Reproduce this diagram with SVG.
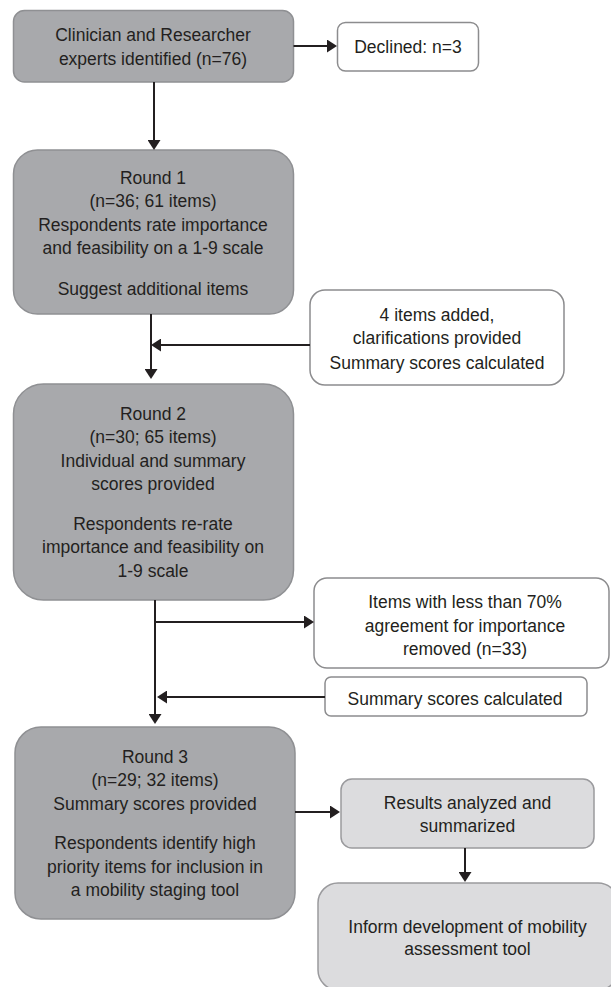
<svg xmlns="http://www.w3.org/2000/svg" width="611" height="987" viewBox="0 0 611 987">
<style>
  .dark { fill: #a8a9ac; stroke: #8f9093; stroke-width: 1.5; }
  .white { fill: #ffffff; stroke: #8c8c8e; stroke-width: 1.5; }
  .light { fill: #dcdcde; stroke: #9a9a9d; stroke-width: 1.5; }
  text { font-family: "Liberation Sans", Arial, sans-serif; font-size: 17.5px; fill: #231f20; text-anchor: middle; }
  .conn line { stroke: #231f20; stroke-width: 2; fill: none; }
</style>
<defs>
  <marker id="arrow" markerUnits="userSpaceOnUse" markerWidth="10" markerHeight="13" refX="5" refY="6.5" orient="auto">
    <path d="M0,0 L10,6.5 L0,13 z" fill="#231f20"/>
  </marker>
</defs>
<rect width="611" height="987" fill="#ffffff"/>

<g id="experts">
  <rect class="dark" x="13.5" y="10.5" width="280" height="71.5" rx="11"/>
  <text x="153" y="41">Clinician and Researcher</text>
  <text x="153" y="65">experts identified (n=76)</text>
</g>
<g id="declined">
  <rect class="white" x="337.5" y="22.5" width="141" height="48.5" rx="8"/>
  <text x="408" y="53">Declined: n=3</text>
</g>
<g id="round1">
  <rect class="dark" x="13.5" y="150" width="280" height="164" rx="24"/>
  <text x="153" y="184">Round 1</text>
  <text x="153" y="207">(n=36; 61 items)</text>
  <text x="153" y="231">Respondents rate importance</text>
  <text x="153" y="254">and feasibility on a 1-9 scale</text>
  <text x="153" y="295">Suggest additional items</text>
</g>
<g id="items-added">
  <rect class="white" x="310" y="290" width="254" height="95" rx="15"/>
  <text x="437" y="321">4 items added,</text>
  <text x="437" y="344">clarifications provided</text>
  <text x="437" y="369">Summary scores calculated</text>
</g>
<g id="round2">
  <rect class="dark" x="13.5" y="384" width="280" height="216" rx="30"/>
  <text x="153" y="420">Round 2</text>
  <text x="153" y="443">(n=30; 65 items)</text>
  <text x="153" y="467">Individual and summary</text>
  <text x="153" y="490">scores provided</text>
  <text x="153" y="530">Respondents re-rate</text>
  <text x="153" y="553">importance and feasibility on</text>
  <text x="153" y="577">1-9 scale</text>
</g>
<g id="items-removed">
  <rect class="white" x="314" y="578" width="295" height="90" rx="13"/>
  <text x="465" y="608">Items with less than 70%</text>
  <text x="465" y="632">agreement for importance</text>
  <text x="465" y="655">removed (n=33)</text>
</g>
<g id="summary-scores">
  <rect class="white" x="325" y="677" width="262" height="39" rx="6"/>
  <text x="455" y="705">Summary scores calculated</text>
</g>
<g id="round3">
  <rect class="dark" x="15" y="727" width="280" height="192" rx="26"/>
  <text x="155" y="763">Round 3</text>
  <text x="155" y="786">(n=29; 32 items)</text>
  <text x="155" y="810">Summary scores provided</text>
  <text x="155" y="849">Respondents identify high</text>
  <text x="155" y="873">priority items for inclusion in</text>
  <text x="155" y="896">a mobility staging tool</text>
</g>
<g id="results">
  <rect class="light" x="341" y="779" width="253" height="69" rx="11"/>
  <text x="467.5" y="809">Results analyzed and</text>
  <text x="467.5" y="832">summarized</text>
</g>
<g id="inform">
  <rect class="light" x="318" y="883" width="300" height="107" rx="20"/>
  <text x="467.5" y="933">Inform development of mobility</text>
  <text x="467.5" y="955">assessment tool</text>
</g>

<g id="connectors" class="conn">
  <line x1="293.5" y1="46" x2="332" y2="46" marker-end="url(#arrow)"/>
  <line x1="154" y1="82" x2="154" y2="145" marker-end="url(#arrow)"/>
  <line x1="151" y1="314" x2="151" y2="374" marker-end="url(#arrow)"/>
  <line x1="310" y1="345" x2="156" y2="345" marker-end="url(#arrow)"/>
  <line x1="155" y1="600" x2="155" y2="719" marker-end="url(#arrow)"/>
  <line x1="155" y1="622" x2="309" y2="622" marker-end="url(#arrow)"/>
  <line x1="325" y1="697" x2="162" y2="697" marker-end="url(#arrow)"/>
  <line x1="295" y1="812" x2="335" y2="812" marker-end="url(#arrow)"/>
  <line x1="465" y1="848" x2="465" y2="877" marker-end="url(#arrow)"/>
</g>
</svg>
